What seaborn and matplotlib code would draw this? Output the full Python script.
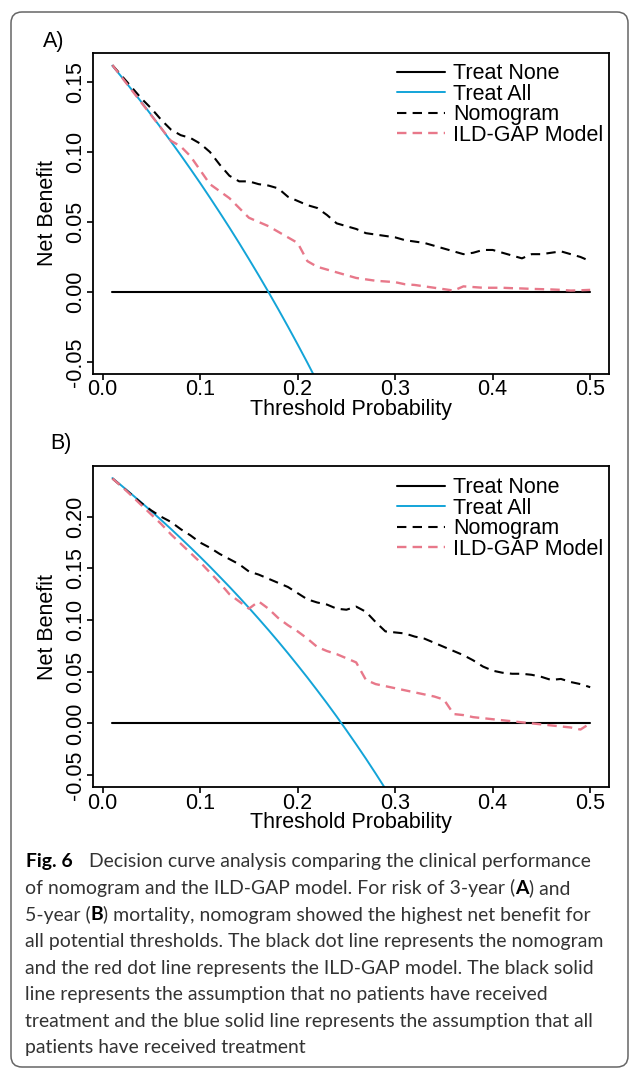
import numpy as np
import matplotlib
matplotlib.use("Agg")
import matplotlib.pyplot as plt
import seaborn as sns
from matplotlib.patches import FancyBboxPatch
from matplotlib.transforms import IdentityTransform

# threshold grid used by the decision curves
thresholds = np.round(np.arange(0.01, 0.505, 0.01), 2)

treat_none_x = [0.01, 0.50]
treat_none_y = [0.0, 0.0]

# panel A: 3-year mortality
treat_all_a = [0.1616, 0.1531, 0.1443, 0.1354, 0.1263, 0.1170, 0.1075, 0.0978, 0.0879, 0.0778,
               0.0674, 0.0568, 0.0460, 0.0349, 0.0235, 0.0119, 0.0000, -0.0122, -0.0247, -0.0375,
               -0.0506, -0.0641]
nomogram_a = [0.162, 0.154, 0.146, 0.138, 0.131, 0.123, 0.116, 0.112, 0.110, 0.106,
              0.100, 0.091, 0.083, 0.079, 0.079, 0.077, 0.076, 0.074, 0.068, 0.065,
              0.062, 0.060, 0.055, 0.049, 0.047, 0.045, 0.042, 0.041, 0.040, 0.039,
              0.037, 0.036, 0.035, 0.033, 0.031, 0.029, 0.027, 0.028, 0.030, 0.030,
              0.028, 0.026, 0.024, 0.027, 0.027, 0.028, 0.029, 0.027, 0.025, 0.022]
ild_gap_a = [0.162, 0.153, 0.144, 0.135, 0.126, 0.117, 0.108, 0.104, 0.097, 0.087,
             0.077, 0.072, 0.067, 0.060, 0.053, 0.050, 0.047, 0.043, 0.039, 0.035,
             0.022, 0.018, 0.016, 0.014, 0.012, 0.010, 0.009, 0.008, 0.0075, 0.007,
             0.0055, 0.005, 0.004, 0.003, 0.002, 0.001, 0.004, 0.0035, 0.003, 0.003,
             0.003, 0.0027, 0.0025, 0.0022, 0.002, 0.0018, 0.0015, 0.001, 0.0012, 0.0015]

# panel B: 5-year mortality
treat_all_b = [0.2374, 0.2296, 0.2216, 0.2135, 0.2053, 0.1968, 0.1882, 0.1793, 0.1703, 0.1611,
               0.1517, 0.1420, 0.1322, 0.1221, 0.1118, 0.1012, 0.0904, 0.0793, 0.0679, 0.0562,
               0.0443, 0.0320, 0.0195, 0.0066, -0.0067, -0.0203, -0.0342, -0.0486, -0.0634]
nomogram_b = [0.237, 0.229, 0.221, 0.213, 0.206, 0.200, 0.195, 0.188, 0.182, 0.175,
              0.170, 0.164, 0.159, 0.154, 0.147, 0.144, 0.140, 0.136, 0.132, 0.126,
              0.120, 0.117, 0.115, 0.111, 0.110, 0.113, 0.108, 0.098, 0.089, 0.088,
              0.087, 0.084, 0.082, 0.078, 0.074, 0.070, 0.066, 0.061, 0.055, 0.051,
              0.049, 0.048, 0.048, 0.047, 0.045, 0.042, 0.043, 0.040, 0.038, 0.035]
ild_gap_b = [0.237, 0.229, 0.220, 0.211, 0.202, 0.193, 0.183, 0.174, 0.165, 0.156,
             0.146, 0.136, 0.125, 0.118, 0.111, 0.118, 0.111, 0.102, 0.095, 0.089,
             0.082, 0.074, 0.070, 0.067, 0.063, 0.059, 0.042, 0.038, 0.036, 0.034,
             0.032, 0.030, 0.028, 0.026, 0.023, 0.009, 0.008, 0.006, 0.005, 0.004,
             0.003, 0.002, 0.001, 0.000, -0.001, -0.002, -0.003, -0.004, -0.006, 0.000]

x_ticks = [0.0, 0.1, 0.2, 0.3, 0.4, 0.5]
x_tick_labels = ["0.0", "0.1", "0.2", "0.3", "0.4", "0.5"]
y_ticks_a = [-0.05, 0.0, 0.05, 0.10, 0.15]
y_tick_labels_a = ["-0.05", "0.00", "0.05", "0.10", "0.15"]
y_ticks_b = [-0.05, 0.0, 0.05, 0.10, 0.15, 0.20]
y_tick_labels_b = ["-0.05", "0.00", "0.05", "0.10", "0.15", "0.20"]

series_names = ["Treat None", "Treat All", "Nomogram", "ILD-GAP Model"]

caption_lines = [
    [("of nomogram and the ILD-GAP model. For risk of 3-year (", False), ("A", True), (") and", False)],
    [("5-year (", False), ("B", True), (") mortality, nomogram showed the highest net benefit for", False)],
    [("all potential thresholds. The black dot line represents the nomogram", False)],
    [("and the red dot line represents the ILD-GAP model. The black solid", False)],
    [("line represents the assumption that no patients have received", False)],
    [("treatment and the blue solid line represents the assumption that all", False)],
    [("patients have received treatment", False)],
]
caption_head = "Fig. 6"
caption_first = "Decision curve analysis comparing the clinical performance"

W, H = 630, 1068
BLUE = "#13A4D8"
PINK = "#E8788A"
FS = 15.5

sns.set_theme(style="ticks", rc={"axes.edgecolor": "black", "xtick.color": "black",
                                 "ytick.color": "black", "text.color": "black",
                                 "axes.labelcolor": "black"})
plt.rcParams["font.family"] = ["Liberation Sans", "DejaVu Sans"]

fig = plt.figure(figsize=(W / 100, H / 100), dpi=100)


def px_axes(left, top, right, bottom):
    return fig.add_axes([left / W, 1 - bottom / H, (right - left) / W, (bottom - top) / H])


def draw_panel(ax, treat_all, nom, ild, ylim, yticks, ylabels, legend_top):
    sns.lineplot(x=treat_none_x, y=treat_none_y, ax=ax, color="black", lw=1.5,
                 label=series_names[0])
    sns.lineplot(x=thresholds[:len(treat_all)], y=treat_all, ax=ax, color=BLUE, lw=1.4,
                 label=series_names[1])
    sns.lineplot(x=thresholds, y=nom, ax=ax, color="black", lw=1.5,
                 linestyle=(0, (4.5, 3)), label=series_names[2])
    sns.lineplot(x=thresholds, y=ild, ax=ax, color=PINK, lw=1.7,
                 linestyle=(0, (4, 2.6)), label=series_names[3])

    ax.set_xlim(-0.0096, 0.5196)
    ax.set_ylim(*ylim)
    ax.set_xticks(x_ticks, labels=x_tick_labels)
    ax.set_yticks(yticks, labels=ylabels)
    for lab in ax.get_yticklabels():
        lab.set_rotation(90)
        lab.set_va("center")
    ax.tick_params(axis="both", direction="out", length=4.3, width=1.2, labelsize=FS)
    ax.tick_params(axis="y", pad=1)
    ax.tick_params(axis="x", pad=-0.5)
    for sp in ax.spines.values():
        sp.set_visible(True)
        sp.set_linewidth(1.3)
    ax.set_xlabel("Threshold Probability", fontsize=FS, labelpad=-1)
    ax.set_ylabel("Net Benefit", fontsize=FS, labelpad=5)
    ax.legend(loc="upper left", bbox_to_anchor=(0.5886, legend_top), frameon=False,
              fontsize=FS, handlelength=2.23, handletextpad=0.36, labelspacing=-0.02,
              borderpad=0, borderaxespad=0)


ax_a = px_axes(93.3, 52.7, 609.3, 374)
draw_panel(ax_a, treat_all_a, nomogram_a, ild_gap_a, (-0.0586, 0.1709),
           y_ticks_a, y_tick_labels_a, 0.967)
ax_b = px_axes(93.3, 465.7, 609.3, 787.3)
draw_panel(ax_b, treat_all_b, nomogram_b, ild_gap_b, (-0.0619, 0.2494),
           y_ticks_b, y_tick_labels_b, 0.964)

fig.text(43 / W, 1 - 42 / H, "A)", fontsize=FS, va="center", ha="left")
fig.text(50 / W, 1 - 443 / H, "B)", fontsize=FS, va="center", ha="left")

# rounded frame around the figure
frame = FancyBboxPatch((11, H - 1067), 617, 1055, boxstyle="round,pad=0,rounding_size=11",
                       transform=IdentityTransform(), fill=False, ec="#666666", lw=1.1)
fig.add_artist(frame)

# caption, fitted to the text block width
CAP_FONT = ["Lato", "DejaVu Sans"]
CAP_COLOR = "#333333"
renderer = fig.canvas.get_renderer()


def piece_width(txt, bold, size):
    t = fig.text(0, 0, txt, fontsize=size, family=CAP_FONT,
                 weight="bold" if bold else "normal")
    w = t.get_window_extent(renderer).width
    t.remove()
    return w


line_right = [563, 593, 605, 588, 549, 597, 305]
ratios = []
for parts, right in zip(caption_lines, line_right):
    w = sum(piece_width(t, b, 10) for t, b in parts)
    ratios.append((right - 25) / w)
cap_size = 10 * float(np.median(ratios))

base0 = 867.3
step = 26.6
fig.text(26 / W, 1 - base0 / H, caption_head, fontsize=cap_size, family=CAP_FONT,
         weight="bold", color="black", va="baseline")
fig.text(89.3 / W, 1 - base0 / H, caption_first, fontsize=cap_size, family=CAP_FONT,
         color=CAP_COLOR, va="baseline")
for i, parts in enumerate(caption_lines):
    x = 25.0
    y = 1 - (base0 + step * (i + 1)) / H
    for txt, bold in parts:
        fig.text(x / W, y, txt, fontsize=cap_size, family=CAP_FONT,
                 weight="bold" if bold else "normal",
                 color="black" if bold else CAP_COLOR, va="baseline")
        x += piece_width(txt, bold, cap_size)

fig.savefig("out.png", dpi=100)
